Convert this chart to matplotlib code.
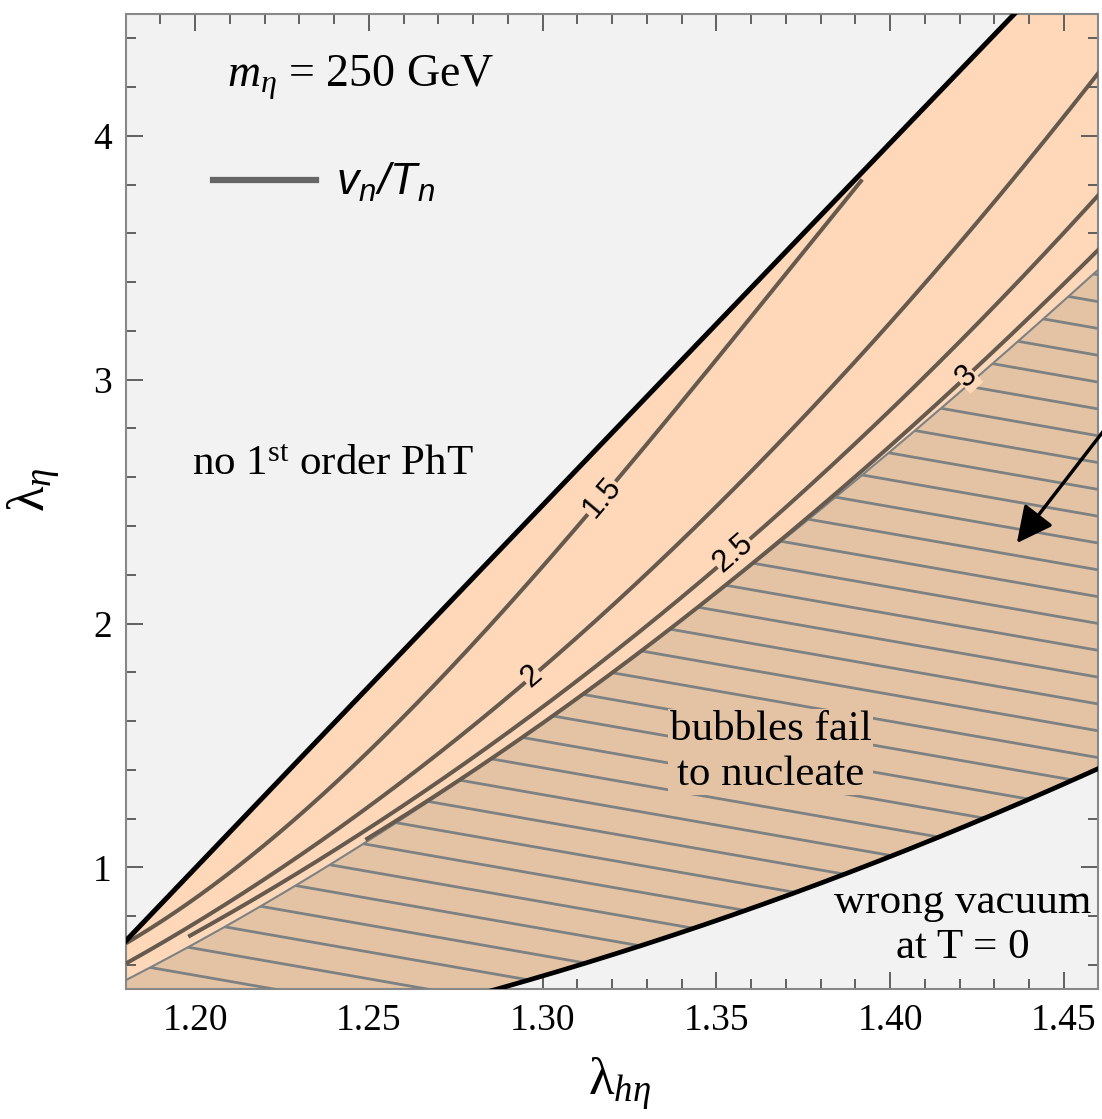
import numpy as np
import matplotlib
matplotlib.use('Agg')
from matplotlib import pyplot as plt
from matplotlib.collections import LineCollection
from matplotlib.lines import Line2D
from matplotlib.patches import Polygon
from matplotlib.ticker import MultipleLocator, FormatStrFormatter

plt.rcParams['font.family'] = ['Liberation Serif', 'DejaVu Serif']
plt.rcParams['mathtext.fontset'] = 'custom'
plt.rcParams['mathtext.rm'] = 'Liberation Serif'
plt.rcParams['mathtext.it'] = 'Liberation Serif:italic'
plt.rcParams['mathtext.sf'] = 'Liberation Sans:italic'

GRAY_BG = '#f2f2f2'
PEACH = '#fed8b9'
TAN = '#e4c3a5'
CONTOUR = '#665a4e'
HATCH = '#7e8182'

# edge of the first order transition region
upper_x = [1.180, 1.230, 1.239, 1.285, 1.317, 1.357, 1.403, 1.436]
upper_y = [0.70, 1.44, 1.58, 2.26, 2.74, 3.33, 4.02, 4.50]

# below this the T = 0 vacuum is the wrong one
lower_x = [1.286, 1.331, 1.360, 1.389, 1.432, 1.460]
lower_y = [0.50, 0.68, 0.84, 0.99, 1.22, 1.41]

# bubbles fail to nucleate below this line
nucl_x = [1.180, 1.191, 1.200, 1.221, 1.240, 1.261, 1.311, 1.348, 1.368, 1.392, 1.430, 1.460]
nucl_y = [0.54, 0.61, 0.69, 0.86, 1.03, 1.22, 1.69, 2.09, 2.34, 2.62, 3.07, 3.45]

# contours of v_n/T_n
levels = ['1.5', '2', '2.5', '3']
c15_x = [1.180, 1.239, 1.247, 1.302, 1.317, 1.321, 1.361, 1.365, 1.392]
c15_y = [0.69, 1.32, 1.44, 2.26, 2.53, 2.59, 3.27, 3.33, 3.83]
c20_x = [1.180, 1.239, 1.261, 1.297, 1.322, 1.325, 1.392, 1.402, 1.461]
c20_y = [0.61, 1.13, 1.35, 1.81, 2.10, 2.14, 3.09, 3.27, 4.28]
c25_x = [1.198, 1.239, 1.261, 1.325, 1.339, 1.355, 1.392, 1.403, 1.428, 1.443, 1.461]
c25_y = [0.72, 1.06, 1.25, 1.95, 2.10, 2.29, 2.75, 2.92, 3.27, 3.49, 3.78]
c30_x = [1.249, 1.261, 1.325, 1.348, 1.392, 1.403, 1.420, 1.441, 1.458, 1.461]
c30_y = [1.12, 1.21, 1.86, 2.10, 2.62, 2.77, 2.99, 3.27, 3.49, 3.56]
label_x = [1.317, 1.297, 1.355, 1.422]


def smooth(xs, ys, deg=3):
    return np.poly1d(np.polyfit(xs, ys, deg))


fig = plt.figure(figsize=(11.02, 11.19), dpi=100)
ax = fig.add_axes([0.1141, 0.1159, 0.8827, 0.8716])
ax.set_xlim(1.18, 1.46)
ax.set_ylim(0.5, 4.5)
ax.set_facecolor(GRAY_BG)

xx = np.linspace(1.17, 1.47, 500)
up = smooth(upper_x, upper_y, 2)
lo = smooth(lower_x, lower_y, 2)
nu = smooth(nucl_x, nucl_y, 3)

ax.fill_between(xx, lo(xx), up(xx), color=PEACH, lw=0, zorder=1)

verts = list(zip(xx, nu(xx))) + list(zip(xx[::-1], lo(xx[::-1])))
region = Polygon(verts, closed=True, facecolor=TAN, edgecolor='none', zorder=2)
ax.add_patch(region)

# hatching inside the no-nucleation region
slope, step = 2.49, 0.11
offsets = 3.32 + step * np.arange(-36, 4)
segs = [[(1.15, c + slope * 0.31), (1.48, c - slope * 0.02)] for c in offsets]
hatch = LineCollection(segs, colors=HATCH, linewidths=2.0, zorder=3)
ax.add_collection(hatch)
hatch.set_clip_path(region)

ax.plot(xx, nu(xx), color=HATCH, lw=1.5, zorder=4)
ax.plot(xx, up(xx), color='black', lw=3.6, zorder=6)
ax.plot(xx, lo(xx), color='black', lw=3.4, zorder=6)

contours = [(c15_x, c15_y), (c20_x, c20_y), (c25_x, c25_y), (c30_x, c30_y)]
for (cx, cy), lev, lx in zip(contours, levels, label_x):
    f = smooth(cx, cy, 3)
    xc = np.linspace(min(cx), max(cx), 300)
    ax.plot(xc, f(xc), color=CONTOUR, lw=2.9, zorder=5, solid_capstyle='butt')
    p0 = ax.transData.transform((lx - 0.003, f(lx - 0.003)))
    p1 = ax.transData.transform((lx + 0.003, f(lx + 0.003)))
    ang = np.degrees(np.arctan2(p1[1] - p0[1], p1[0] - p0[0]))
    ax.text(lx, f(lx), lev, rotation=ang, ha='center', va='center',
            rotation_mode='anchor', fontsize=22, family=['Liberation Sans'],
            bbox=dict(facecolor=PEACH, edgecolor='none', pad=0.3), zorder=7)

ax.annotate('', xy=(1.4365, 2.33), xytext=(1.462, 2.80),
            arrowprops=dict(arrowstyle='-|>', color='black', lw=2.5,
                            mutation_scale=55, shrinkA=0, shrinkB=0),
            annotation_clip=False, zorder=8)

ax.text(1.2475, 4.237, r'$m_\eta$ = 250 GeV', ha='center', va='center', fontsize=33, zorder=8)
ax.text(1.2397, 2.65, r'no 1$^{\mathrm{st}}$ order PhT', ha='center', va='center', fontsize=31, zorder=8)
ax.text(1.3656, 1.473, 'bubbles fail\nto nucleate', ha='center', va='center', fontsize=31,
        linespacing=1.2, zorder=8,
        bbox=dict(facecolor=TAN, edgecolor='none', pad=1))
ax.text(1.4209, 0.763, 'wrong vacuum\nat T = 0', ha='center', va='center', fontsize=31,
        linespacing=1.2, zorder=8)

handle = Line2D([], [], color='#666666', lw=4.5)
ax.legend([handle], [r'$\mathsf{v_n/T_n}$'], loc='center left',
          bbox_to_anchor=(0.09, 0.827), frameon=False, fontsize=32,
          handlelength=2.3, handletextpad=0.45, borderpad=0, borderaxespad=0)

ax.xaxis.set_major_locator(MultipleLocator(0.05))
ax.xaxis.set_minor_locator(MultipleLocator(0.01))
ax.xaxis.set_major_formatter(FormatStrFormatter('%.2f'))
ax.yaxis.set_major_locator(MultipleLocator(1))
ax.yaxis.set_minor_locator(MultipleLocator(0.2))
ax.tick_params(which='both', direction='in', top=True, right=True,
               color='#555555', width=1.3, labelsize=27, pad=10)
ax.tick_params(which='major', length=12)
ax.tick_params(which='minor', length=7)
for s in ax.spines.values():
    s.set_color('#888888')
    s.set_linewidth(1.5)

ax.set_xlabel(r'$\mathrm{\lambda}_{h\eta}$', fontsize=38)
ax.set_ylabel(r'$\mathrm{\lambda}_{\eta}$', fontsize=38)
ax.xaxis.set_label_coords(0.508, -0.068)
ax.yaxis.set_label_coords(-0.066, 0.512)

fig.savefig('out.png', dpi=100)
